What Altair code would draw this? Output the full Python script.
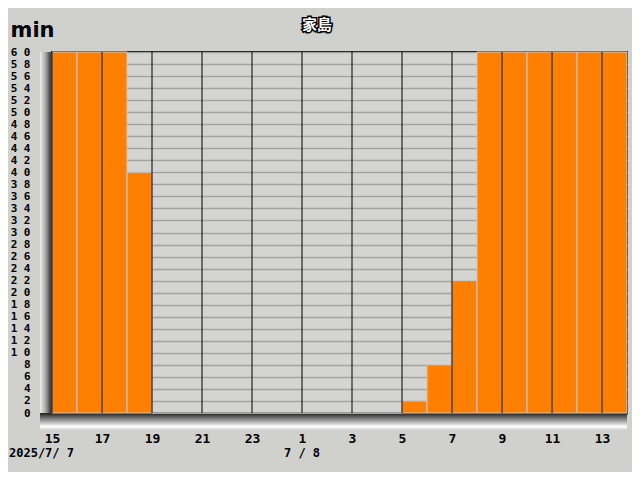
import altair as alt
import pandas as pd

hours = [15, 16, 17, 18, 19, 20, 21, 22, 23, 0, 1, 2, 3, 4, 5, 6, 7, 8, 9, 10, 11, 12, 13]
minutes = [60, 60, 60, 40, 0, 0, 0, 0, 0, 0, 0, 0, 0, 0, 2, 8, 22, 60, 60, 60, 60, 60, 60]
date_labels = ["2025/7/ 7", "7 / 8"]
date_index = [0, 10]
title_text = "家島"

n = len(hours)
df = pd.DataFrame({"i": list(range(n)), "i2": [k + 1 for k in range(n)],
                   "hour": hours, "min": minutes})
rules_df = pd.DataFrame({"i": list(range(0, n, 2))})
dates_df = pd.DataFrame({"i": date_index, "label": date_labels})

label_map = "{" + ",".join(f"'{k}':'{h}'" for k, h in enumerate(hours)) + "}"

W, H = 575, 361
xscale = alt.Scale(domain=[0, n], nice=False, zero=False)
yscale = alt.Scale(domain=[0, 60], nice=False)

frame_left = alt.Chart(pd.DataFrame({"a": [0]})).mark_rect(
    color=alt.LinearGradient(gradient="linear", x1=0, x2=1, y1=0, y2=0,
                             stops=[alt.GradientStop(color="#f0f0f0", offset=0),
                                    alt.GradientStop(color="#a0a0a0", offset=0.5),
                                    alt.GradientStop(color="#202020", offset=1)])
).encode(x=alt.value(-12), x2=alt.value(0), y=alt.value(0), y2=alt.value(H + 16))

frame_bottom = alt.Chart(pd.DataFrame({"a": [0]})).mark_rect(
    color=alt.LinearGradient(gradient="linear", x1=0, x2=0, y1=0, y2=1,
                             stops=[alt.GradientStop(color="#202020", offset=0),
                                    alt.GradientStop(color="#909090", offset=0.4),
                                    alt.GradientStop(color="#ffffff", offset=0.8),
                                    alt.GradientStop(color="#d0d0cc", offset=1)])
).encode(x=alt.value(-12), x2=alt.value(W), y=alt.value(H), y2=alt.value(H + 17))

bars = alt.Chart(df).mark_rect(color="#ff8000", stroke="#c8c8c8", strokeWidth=1).encode(
    x=alt.X("i:Q", scale=xscale,
            axis=alt.Axis(values=list(range(0, n, 2)), title=None, grid=False,
                          labelExpr=f"{label_map}[datum.value+'']",
                          labelFlush=False,
                          labelFont="DejaVu Sans Mono", labelFontWeight="bold",
                          labelFontSize=13, labelColor="black", labelPadding=19,
                          ticks=False, domainColor="#202020", domainWidth=3)),
    x2="i2:Q",
    y=alt.Y("min:Q", scale=yscale,
            axis=alt.Axis(values=list(range(0, 61, 2)), title="min",
                          titleAngle=0, titleAlign="left", titleBaseline="middle",
                          titleX=-42, titleY=-22, titleFontSize=21,
                          titleFont="DejaVu Sans", titleFontWeight="bold",
                          titleColor="black",
                          labelExpr="join(split(datum.label,''),' ')",
                          labelFont="DejaVu Sans Mono", labelFontWeight="bold",
                          labelFontSize=11, labelColor="black", labelPadding=22,
                          labelFlush=False,
                          ticks=False, grid=True, gridColor="#a2a2a2", gridWidth=1.5,
                          domainColor="#202020", domainWidth=3)),
    y2=alt.datum(0),
)

rules = alt.Chart(rules_df).mark_rule(color="black", strokeWidth=1).encode(
    x=alt.X("i:Q", scale=xscale),
    y=alt.value(0), y2=alt.value(H),
)

date_base = alt.Chart(dates_df).encode(
    x=alt.X("i:Q", scale=xscale),
    y=alt.value(H + 40),
    text="label:N",
)
date_style = dict(font="DejaVu Sans Mono", fontWeight="bold", fontSize=12,
                  color="black", baseline="middle")
date1 = date_base.transform_filter(alt.datum.i == date_index[0]).mark_text(
    dx=-43, align="left", **date_style)
date2 = date_base.transform_filter(alt.datum.i == date_index[1]).mark_text(
    dx=0, align="center", **date_style)

title_df = pd.DataFrame({"t": [title_text]})
title_outline = alt.Chart(title_df).mark_text(
    font="Noto Sans CJK JP", fontWeight="bold", fontSize=15, color="white",
    stroke="black", strokeWidth=3, align="center", baseline="middle").encode(
    x=alt.value(265), y=alt.value(-27), text="t:N")
title_fill = alt.Chart(title_df).mark_text(
    font="Noto Sans CJK JP", fontWeight="bold", fontSize=15, color="white",
    align="center", baseline="middle").encode(
    x=alt.value(265), y=alt.value(-27), text="t:N")

chart = alt.layer(frame_left, frame_bottom, bars, rules, date1, date2,
                  title_outline, title_fill).properties(
    width=W, height=H,
    autosize=alt.AutoSizeParams(type="none"),
    padding={"left": 44, "top": 44, "right": 5, "bottom": 59},
    background="#d0d0cc",
).configure_view(fill="#d4d4d0", stroke="black", strokeWidth=2)

chart.save("out.html", embed_options={"renderer": "svg", "actions": False})
